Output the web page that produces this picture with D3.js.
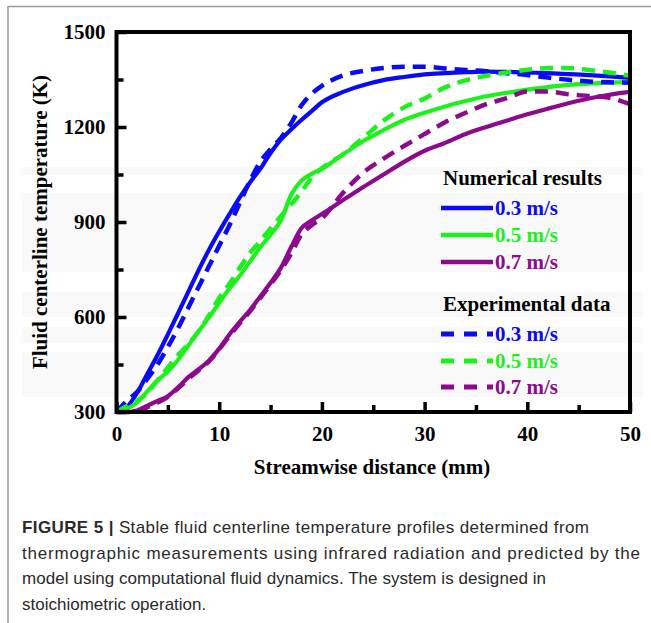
<!DOCTYPE html>
<html><head><meta charset="utf-8">
<script src="https://cdn.jsdelivr.net/npm/d3@7"></script>
<style>body{margin:0;background:#fff}svg{display:block}</style>
</head><body>
<svg id="c" width="651" height="623"></svg>
<script>
// ---- data ----
const xNum = [0,1,2,3,4,5,6,7,8,9,10,11,12,13,14,15,16,17,18,19,20,22,24,26,28,30,32,34,36,38,40,42,44,46,48,50];
const num03 = [300,315,360,420,480,545,612,680,748,812,870,925,978,1025,1068,1118,1160,1192,1222,1250,1278,1310,1332,1348,1358,1366,1370,1373,1375,1374,1372,1370,1367,1364,1360,1355];
const num05 = [300,310,330,365,400,428,465,510,555,598,645,690,730,775,820,860,905,985,1030,1052,1068,1112,1155,1190,1222,1245,1265,1282,1297,1308,1318,1326,1333,1337,1340,1342];
const num07 = [300,300,305,320,335,350,378,410,435,462,500,545,585,622,665,708,755,820,880,905,925,968,1010,1050,1090,1125,1150,1178,1200,1220,1240,1258,1275,1290,1302,1311];
const xExp = [0,1,2,3,4,5,6,7,8,9,10,11,12,13,14,15,16,17,18,19,20,22,24,26,28,30,32,34,36,38,40,42,44,46,48,50];
const exp03 = [300,335,363,405,450,505,565,630,695,760,825,890,960,1030,1090,1130,1165,1212,1268,1305,1330,1362,1377,1386,1390,1390,1385,1380,1376,1370,1364,1356,1349,1344,1341,1340];
const exp05 = [300,318,335,360,400,440,480,515,555,605,660,705,755,802,840,880,918,955,995,1040,1070,1112,1165,1220,1262,1290,1325,1347,1362,1372,1381,1386,1386,1380,1372,1362];
const exp07 = [300,300,303,315,330,348,375,405,432,460,498,540,580,618,660,703,748,800,860,890,912,990,1055,1100,1140,1178,1215,1245,1272,1291,1312,1312,1303,1298,1292,1272];
const speeds = ["0.3 m/s","0.5 m/s","0.7 m/s"];
const colors = ["#0a0af5","#1ef01e","#8c0a8c"];
const xTicks = [0,10,20,30,40,50];
const xMinor = [5,15,25,35,45];
const yTicks = [300,600,900,1200,1500];
const yMinor = [450,750,1050,1350];
const captionBold = "FIGURE 5 |";
const captionLines = [
  " Stable fluid centerline temperature profiles determined from",
  "thermographic measurements using infrared radiation and predicted by the",
  "model using computational fluid dynamics. The system is designed in",
  "stoichiometric operation."
];

// ---- drawing ----
const svg = d3.select("#c");
const L = 116.5, R = 630, T = 32, B = 412;
const x = d3.scaleLinear().domain([0,50]).range([L,R]);
const y = d3.scaleLinear().domain([300,1500]).range([B,T]);
const serif = "'Liberation Serif','Times New Roman',serif";

// faint scan bands
[[167,175],[193,272],[292,317],[327,343],[352,397]].forEach(b=>{
  svg.append("rect").attr("x",22).attr("y",b[0]).attr("width",621).attr("height",b[1]-b[0]).attr("fill","#f9f9f9");
});

// frame
svg.append("line").attr("x1",8).attr("x2",651).attr("y1",6.5).attr("y2",6.5).attr("stroke","#9a9a9a").attr("stroke-width",1.5);
svg.append("line").attr("x1",8).attr("x2",8).attr("y1",6).attr("y2",623).attr("stroke","#9a9a9a").attr("stroke-width",1.5);

const line = d3.line().x(d=>x(d[0])).y(d=>y(d[1])).curve(d3.curveMonotoneX);
const numSeries = [num03,num05,num07];
const expSeries = [exp03,exp05,exp07];
const g = svg.append("g");
numSeries.forEach((s,i)=>{
  g.append("path").datum(xNum.map((v,j)=>[v,s[j]])).attr("d",line)
   .attr("fill","none").attr("stroke",colors[i]).attr("stroke-width",4.2);
});
expSeries.forEach((s,i)=>{
  g.append("path").datum(xExp.map((v,j)=>[v,s[j]])).attr("d",line)
   .attr("fill","none").attr("stroke",colors[i]).attr("stroke-width",4.5)
   .attr("stroke-dasharray","13,8");
});

// axes box
svg.append("rect").attr("x",L).attr("y",T).attr("width",R-L).attr("height",B-T)
  .attr("fill","none").attr("stroke","#000").attr("stroke-width",4);

// ticks (inward)
const xAx = d3.axisBottom(x).tickValues(xTicks).tickSize(-10).tickPadding(12).tickFormat(d3.format("d"));
const gx = svg.append("g").attr("transform",`translate(0,${B})`).call(xAx);
const gxm = svg.append("g").attr("transform",`translate(0,${B})`).call(d3.axisBottom(x).tickValues(xMinor).tickSize(-7).tickFormat(""));
const yAx = d3.axisLeft(y).tickValues(yTicks).tickSize(-10).tickPadding(12).tickFormat(d3.format("d"));
const gy = svg.append("g").attr("transform",`translate(${L},0)`).call(yAx);
const gym = svg.append("g").attr("transform",`translate(${L},0)`).call(d3.axisLeft(y).tickValues(yMinor).tickSize(-7).tickFormat(""));
[gx,gxm,gy,gym].forEach(a=>{
  a.select(".domain").remove();
  a.selectAll(".tick line").attr("stroke","#000").attr("stroke-width",3.5);
  a.selectAll(".tick text").attr("font-family",serif).attr("font-weight","bold").attr("font-size",21).attr("fill","#000");
});
gx.selectAll(".tick text").attr("dy","0.71em").attr("y",14);
gy.selectAll(".tick text").attr("x",-11);

// axis titles
svg.append("text").attr("x",372).attr("y",474).attr("text-anchor","middle")
  .attr("font-family",serif).attr("font-weight","bold").attr("font-size",21).text("Streamwise distance (mm)");
svg.append("text").attr("transform","translate(47,222) rotate(-90)").attr("text-anchor","middle")
  .attr("font-family",serif).attr("font-weight","bold").attr("font-size",21).text("Fluid centerline temperature (K)");

// legend
const lg = svg.append("g");
function legendBlock(title, ty, rows, dashed){
  lg.append("text").attr("x",443).attr("y",ty).attr("dominant-baseline","central")
    .attr("font-family",serif).attr("font-weight","bold").attr("font-size",21).text(title);
  rows.forEach((ry,i)=>{
    const ln = lg.append("line").attr("x1",441).attr("x2",493).attr("y1",ry).attr("y2",ry)
      .attr("stroke",colors[i]).attr("stroke-width",dashed?5:4.5);
    if(dashed) ln.attr("stroke-dasharray","13,10");
    lg.append("text").attr("x",495).attr("y",ry).attr("dominant-baseline","central")
      .attr("font-family",serif).attr("font-weight","bold").attr("font-size",21)
      .attr("fill",colors[i]).text(speeds[i]);
  });
}
legendBlock("Numerical results",178,[208,235,262],false);
legendBlock("Experimental data",304,[334,361,387],true);

// caption
const capWidths = [567,618,524,null];
const cap = svg.append("g").attr("font-family","'Liberation Sans',Arial,sans-serif").attr("font-size",17).attr("fill","#2a2a2a");
captionLines.forEach((t,i)=>{
  const tx = cap.append("text").attr("x",22).attr("y",533+i*25.7);
  if(capWidths[i]) tx.attr("textLength",capWidths[i]).attr("lengthAdjust","spacing");
  if(i===0){ tx.append("tspan").attr("font-weight","bold").text(captionBold); }
  tx.append("tspan").text(t);
});
</script>
</body></html>
